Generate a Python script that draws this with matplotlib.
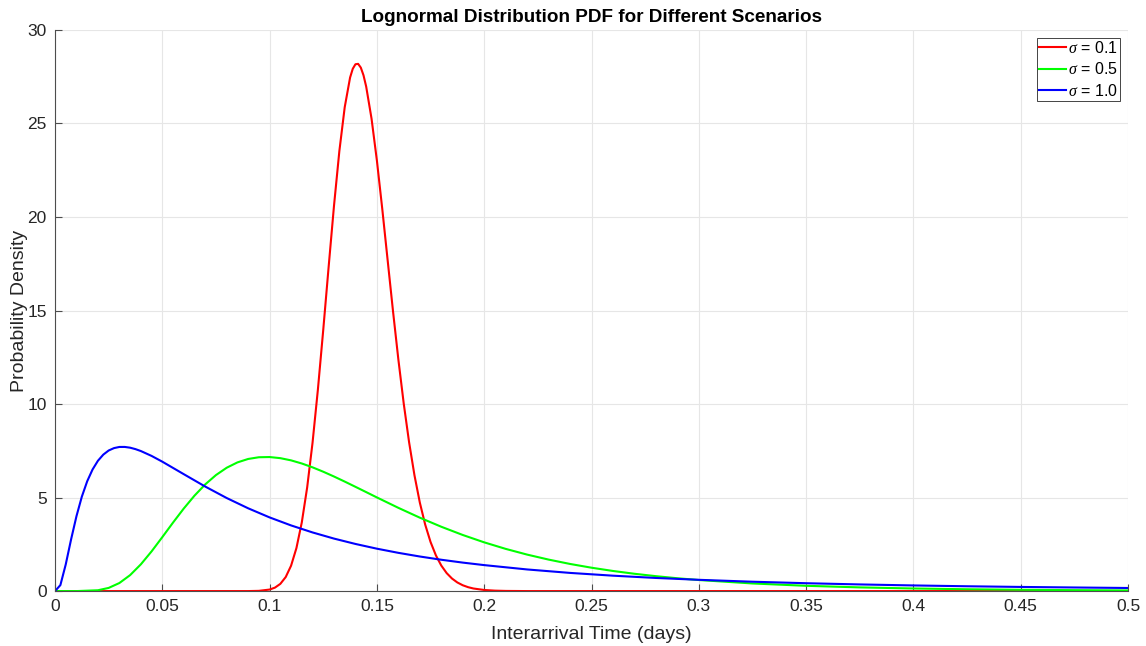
import matplotlib.pyplot as plt

plt.rcParams['font.family'] = ['Liberation Sans', 'DejaVu Sans']
plt.rcParams['mathtext.fontset'] = 'custom'
plt.rcParams['mathtext.it'] = 'Liberation Serif:italic'

# values
red_x = [0, 0.09, 0.095, 0.1, 0.1025, 0.105, 0.1075, 0.11, 0.1125, 0.115, 0.1175,
         0.12, 0.1225, 0.125, 0.1275, 0.13, 0.1325, 0.135, 0.1375, 0.13875, 0.14,
         0.14125, 0.1425, 0.14375, 0.145, 0.1475, 0.15, 0.1525, 0.155, 0.1575, 0.16,
         0.1625, 0.165, 0.1675, 0.17, 0.1725, 0.175, 0.1775, 0.18, 0.1825, 0.185,
         0.1875, 0.19, 0.1925, 0.195, 0.2, 0.205, 0.21, 0.22, 0.5]
red_y = [0, 0.001, 0.013, 0.082, 0.186, 0.387, 0.750, 1.357, 2.301, 3.673, 5.541,
         7.924, 10.775, 13.973, 17.326, 20.594, 23.524, 25.871, 27.457, 27.925, 28.168,
         28.188, 27.987, 27.579, 26.974, 25.259, 23.014, 20.430, 17.693, 14.967, 12.381,
         10.025, 7.956, 6.193, 4.732, 3.554, 2.624, 1.906, 1.365, 0.962, 0.670,
         0.460, 0.312, 0.209, 0.138, 0.059, 0.024, 0.009, 0.001, 0]

green_x = [0, 0.01, 0.02, 0.025, 0.03, 0.035, 0.04, 0.045, 0.05, 0.055, 0.06,
           0.065, 0.07, 0.075, 0.08, 0.085, 0.09, 0.095, 0.1, 0.105, 0.11,
           0.115, 0.12, 0.125, 0.13, 0.135, 0.14, 0.145, 0.15, 0.16, 0.17,
           0.18, 0.19, 0.2, 0.21, 0.22, 0.23, 0.24, 0.25, 0.26, 0.27,
           0.28, 0.29, 0.3, 0.325, 0.35, 0.375, 0.4, 0.425, 0.45, 0.475, 0.5]
green_y = [0, 0.0002, 0.045, 0.170, 0.431, 0.854, 1.430, 2.123, 2.885, 3.664, 4.415,
           5.103, 5.704, 6.203, 6.595, 6.880, 7.064, 7.156, 7.167, 7.107, 6.989,
           6.822, 6.617, 6.382, 6.126, 5.855, 5.575, 5.292, 5.007, 4.451, 3.925,
           3.440, 3.000, 2.606, 2.257, 1.951, 1.684, 1.451, 1.250, 1.076, 0.926,
           0.798, 0.687, 0.592, 0.408, 0.283, 0.198, 0.139, 0.098, 0.070, 0.050, 0.036]

blue_x = [0, 0.0025, 0.005, 0.0075, 0.01, 0.0125, 0.015, 0.0175, 0.02, 0.0225, 0.025,
          0.0275, 0.03, 0.0325, 0.035, 0.0375, 0.04, 0.045, 0.05, 0.06, 0.07,
          0.08, 0.09, 0.1, 0.11, 0.12, 0.13, 0.14, 0.15, 0.16, 0.17,
          0.18, 0.19, 0.2, 0.22, 0.24, 0.26, 0.28, 0.3, 0.325, 0.35,
          0.375, 0.4, 0.425, 0.45, 0.475, 0.5]
blue_y = [0, 0.319, 1.425, 2.768, 4.005, 5.048, 5.872, 6.502, 6.968, 7.296, 7.517,
          7.645, 7.706, 7.707, 7.667, 7.590, 7.488, 7.227, 6.919, 6.251, 5.589,
          4.976, 4.427, 3.939, 3.511, 3.136, 2.807, 2.520, 2.267, 2.045, 1.849,
          1.676, 1.523, 1.389, 1.157, 0.972, 0.824, 0.702, 0.603, 0.501, 0.421,
          0.356, 0.302, 0.258, 0.222, 0.193, 0.166]

x_ticks = [0, 0.05, 0.1, 0.15, 0.2, 0.25, 0.3, 0.35, 0.4, 0.45, 0.5]
x_tick_labels = ['0', '0.05', '0.1', '0.15', '0.2', '0.25', '0.3', '0.35', '0.4', '0.45', '0.5']
y_ticks = [0, 5, 10, 15, 20, 25, 30]

fig = plt.figure(figsize=(11.46, 6.46), dpi=100)
ax = fig.add_axes([0.048, 0.085, 0.9363, 0.8686])

ax.plot(red_x, red_y, color='#ff0000', lw=1.5, label=r'$\sigma$ = 0.1')
ax.plot(green_x, green_y, color='#00ff00', lw=1.5, label=r'$\sigma$ = 0.5')
ax.plot(blue_x, blue_y, color='#0000ff', lw=1.5, label=r'$\sigma$ = 1.0')

ax.set_xlim(0, 0.5)
ax.set_ylim(0, 30)
ax.set_xticks(x_ticks)
ax.set_xticklabels(x_tick_labels)
ax.set_yticks(y_ticks)
ax.grid(True, color='#e6e6e6', lw=0.8)
ax.set_axisbelow(True)
ax.spines['top'].set_visible(False)
ax.spines['right'].set_visible(False)
for s in ('left', 'bottom'):
    ax.spines[s].set_color('#4d4d4d')
    ax.spines[s].set_linewidth(0.8)
ax.tick_params(direction='in', length=5, width=0.8, colors='#4d4d4d',
               labelcolor='#262626', labelsize=12.5, pad=6)

ax.set_xlabel('Interarrival Time (days)', fontsize=14, color='#262626', labelpad=8)
ax.set_ylabel('Probability Density', fontsize=14, color='#262626')
ax.yaxis.set_label_coords(-0.025, 0.5)
ax.set_title('Lognormal Distribution PDF for Different Scenarios',
             fontsize=13.6, fontweight='bold', color='black', pad=5.5)

leg = ax.legend(loc='upper right', fontsize=11.5, fancybox=False, framealpha=1,
                edgecolor='#262626', handlelength=1.7, handletextpad=0.15,
                borderpad=0.12, labelspacing=0.35, borderaxespad=0.5)
leg.get_frame().set_linewidth(0.6)

fig.savefig('out.png', dpi=100)
